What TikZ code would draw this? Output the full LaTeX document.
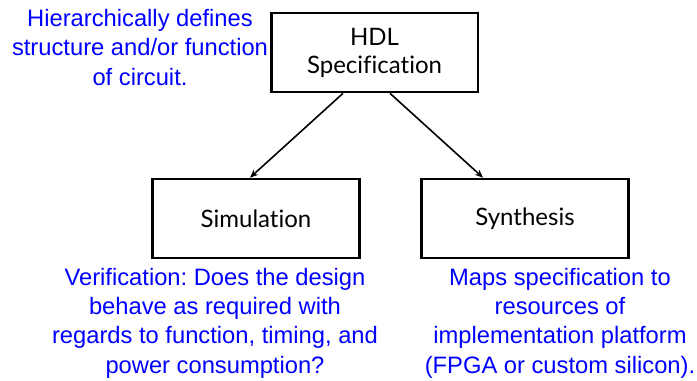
\documentclass[tikz,border=0pt]{standalone}
\usepackage{fontspec}
\setmainfont{Liberation Sans}
\newfontfamily\boxfont[Ligatures=NoCommon]{Lato}
\usetikzlibrary{arrows.meta,calc}
\frenchspacing

\tikzset{
  blockbox/.style={draw=black, line width=2pt, fill=white, minimum width=155pt, minimum height=59.25pt,
    inner sep=0pt, align=center, font=\boxfont\fontsize{18}{21}\selectfont},
  note/.style={text=blue, align=center, inner sep=0pt, font=\fontsize{17.8}{22}\selectfont},
  flow/.style={-{Stealth[length=6pt,width=5pt]}, line width=1.2pt}
}

\begin{document}
\begin{tikzpicture}[x=0.75pt,y=0.75pt,yscale=-1,xscale=1]
\useasboundingbox (0,0) rectangle (697,381);

%Boxes
\node [blockbox] (hdl) at (374.5,52.5) {HDL\\Specification};
\node [blockbox] (sim) at (256,218.5) {Simulation};
\node [blockbox] (syn) at (525,218.5) {Synthesis};

%Notes
\node [note] (hdlnote) at (140,47.5) {Hierarchically defines\\structure and/or function\\of circuit.};
\node [note] (simnote) at (215,323) {Verification: Does the design\\behave as required with\\regards to function, timing, and\\power consumption?};
\node [note] (synnote) at (560,323) {Maps specification to\\resources of\\implementation platform\\(FPGA or custom silicon).};

%Arrows
\draw [flow] ($(hdl.south)+(-31.5,0)$) -- ($(sim.north)+(-6,0)$);
\draw [flow] ($(hdl.south)+(15.5,0)$) -- ($(syn.north)+(-42,0)$);
\end{tikzpicture}
\end{document}
